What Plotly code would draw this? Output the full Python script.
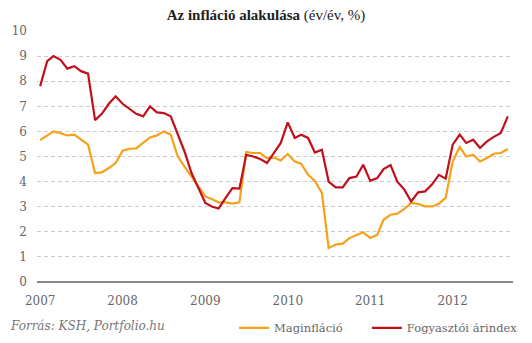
import pandas as pd
import plotly.graph_objects as go

months = pd.date_range(start="2007-01-01", periods=69, freq="MS")

maginflacio = [
    5.65, 5.83, 6.0, 5.93, 5.84, 5.87, 5.67, 5.47, 4.34, 4.37, 4.54, 4.74,
    5.23, 5.31, 5.32, 5.54, 5.76, 5.84, 6.0, 5.87, 5.0, 4.6, 4.2, 3.8,
    3.41, 3.3, 3.17, 3.17, 3.12, 3.17, 5.18, 5.14, 5.14, 4.94, 4.96, 4.84,
    5.1, 4.8, 4.71, 4.27, 4.03, 3.55, 1.35, 1.49, 1.53, 1.75, 1.88, 1.98,
    1.75, 1.88, 2.48, 2.68, 2.72, 2.91, 3.15, 3.11, 3.01, 3.01, 3.12, 3.35,
    4.8, 5.38, 5.0, 5.07, 4.8, 4.94, 5.11, 5.14, 5.3,
]

fogyasztoi = [
    7.8, 8.8, 9.0, 8.85, 8.5, 8.6, 8.4, 8.3, 6.45, 6.7, 7.1, 7.4,
    7.1, 6.9, 6.7, 6.6, 7.0, 6.76, 6.73, 6.6, 5.87, 5.2, 4.34, 3.74,
    3.15, 3.0, 2.93, 3.35, 3.74, 3.72, 5.07, 5.0, 4.9, 4.74, 5.14, 5.54,
    6.36, 5.74, 5.87, 5.74, 5.16, 5.27, 4.0, 3.77, 3.77, 4.14, 4.2, 4.67,
    4.03, 4.14, 4.5, 4.66, 4.0, 3.68, 3.21, 3.57, 3.61, 3.88, 4.27, 4.12,
    5.47, 5.87, 5.54, 5.67, 5.34, 5.6, 5.78, 5.94, 6.6,
]

year_ticks = pd.date_range(start="2007-01-01", periods=6, freq="YS")
year_labels = ["2007", "2008", "2009", "2010", "2011", "2012"]
y_ticks = list(range(0, 11))

ORANGE = "#f7a11a"
RED = "#c0101c"
FONT = "DejaVu Serif"
TITLE_FONT = "Liberation Serif"

fig = go.Figure()
fig.add_trace(go.Scatter(x=months, y=maginflacio, mode="lines", name="Maginfláció",
                         line=dict(color=ORANGE, width=2.2), legend="legend"))
fig.add_trace(go.Scatter(x=months, y=fogyasztoi, mode="lines", name="Fogyasztói árindex",
                         line=dict(color=RED, width=2.2), legend="legend2"))

legend_common = dict(orientation="h", xanchor="left", y=-0.183, yanchor="middle",
                     font=dict(family=FONT, size=11.5, color="#666666"), itemwidth=30,
                     bgcolor="rgba(0,0,0,0)")

fig.update_layout(
    width=532, height=343,
    margin=dict(l=37, r=19, t=31, b=61, autoexpand=False),
    paper_bgcolor="white", plot_bgcolor="white",
    font=dict(family=FONT, color="#666666", size=12),
    title=dict(text="<b>Az infláció alakulása</b> (év/év, %)", x=0.5, xanchor="center",
               y=0.958, yanchor="middle", font=dict(family=TITLE_FONT, size=15, color="#222222")),
    showlegend=True,
    legend=dict(x=0.414, **legend_common),
    legend2=dict(x=0.693, **legend_common),
    annotations=[dict(text="<i>Forrás: KSH, Portfolio.hu</i>", xref="paper", yref="paper",
                      x=-0.061, y=-0.175, xanchor="left", yanchor="middle", showarrow=False,
                      font=dict(family=FONT, size=12, color="#777777"))],
)

fig.update_xaxes(
    type="date", range=["2006-12-18", "2012-09-24"],
    tickvals=year_ticks, ticktext=year_labels,
    showgrid=False, zeroline=False, showline=False, ticks="",
    ticklabelstandoff=10, tickfont=dict(family=FONT, size=12, color="#666666"),
)
fig.update_yaxes(
    range=[0, 10], tickvals=y_ticks,
    showgrid=True, gridcolor="#cccccc", gridwidth=1, griddash="4px,3px",
    zeroline=True, zerolinecolor="#888888", zerolinewidth=1.5,
    showline=False, ticks="", ticklabelstandoff=9,
    tickfont=dict(family=FONT, size=12, color="#666666"),
)

fig.write_html("out.html")
